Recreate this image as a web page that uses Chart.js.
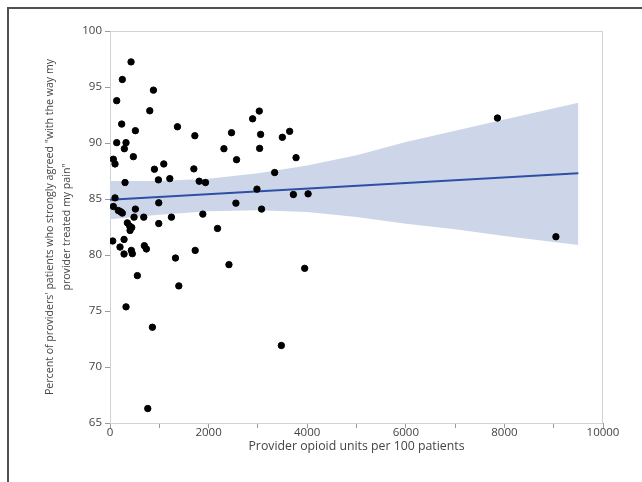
<!DOCTYPE html>
<html>
<head>
<meta charset="utf-8">
<script src="https://cdn.jsdelivr.net/npm/chart.js@4.4.0/dist/chart.umd.min.js"></script>
<style>
  body { margin: 0; background: #fff; }
  #wrap { position: relative; width: 642px; height: 482px; }
  #frame { position: absolute; left: 7px; top: 7px; width: 700px; height: 600px;
           border-left: 2px solid #505050; border-top: 2px solid #505050; pointer-events: none; }
</style>
</head>
<body>
<div id="wrap">
  <canvas id="myChart"></canvas>
  <div id="frame"></div>
</div>
<script>
// opioid units per 100 patients (x) vs percent strongly agreed (y)
const opioidUnits = [
  427, 250, 881, 136, 807, 237, 515, 1368, 1721, 136, 325, 291, 474, 68,
  102, 901, 1091, 982, 1213, 1701, 1809, 1937, 305, 102, 989, 68,
  169, 217, 250, 515, 488, 685, 1246, 1883, 989, 352, 400, 441, 407, 2181,
  55, 285, 203, 433, 453, 285, 697, 738, 1728, 1328,
  555, 1396, 325, 860, 3476, 766,
  3028, 2893, 2465, 3055, 3496, 3644, 2311, 3035, 2567, 3774, 3340,
  2981, 2554, 3720, 4018, 3075, 2413, 3949,
  7859, 9045
];
const pctAgreed = [
  97.24, 95.67, 94.72, 93.78, 92.88, 91.69, 91.10, 91.45, 90.65, 90.03, 90.03, 89.49, 88.78, 88.55,
  88.13, 87.66, 88.13, 86.71, 86.82, 87.69, 86.59, 86.47, 86.47, 85.10, 84.66, 84.33,
  83.97, 83.86, 83.74, 84.10, 83.38, 83.38, 83.38, 83.65, 82.81, 82.87, 82.58, 82.45, 82.19, 82.37,
  81.25, 81.39, 80.71, 80.41, 80.12, 80.09, 80.83, 80.54, 80.41, 79.73,
  78.16, 77.24, 75.37, 73.55, 71.92, 66.29,
  92.85, 92.16, 90.92, 90.77, 90.51, 91.04, 89.49, 89.52, 88.51, 88.69, 87.36,
  85.88, 84.63, 85.40, 85.46, 84.10, 79.14, 78.81,
  92.23, 81.63
];

// fitted line and its confidence band
const fitX = [0, 9500];
const fitY = [84.93, 87.30];
const bandX = [0, 1000, 2000, 3000, 4000, 5000, 6000, 7000, 8000, 9500];
const bandUpper = [86.6, 86.6, 86.8, 87.3, 88.0, 88.9, 90.1, 91.1, 92.1, 93.6];
const bandLower = [83.2, 83.6, 83.9, 84.0, 83.85, 83.4, 82.8, 82.3, 81.7, 80.9];

const xTicks = [0, 2000, 4000, 6000, 8000, 10000];
const yTitle = ['Percent of providers\' patients who strongly agreed "with the way my', 'provider treated my pain"'];
const xTitle = 'Provider opioid units per 100 patients';

const pts = opioidUnits.map((x, i) => ({ x: x, y: pctAgreed[i] }));
const fitPts = fitX.map((x, i) => ({ x: x, y: fitY[i] }));
const upPts = bandX.map((x, i) => ({ x: x, y: bandUpper[i] }));
const loPts = bandX.map((x, i) => ({ x: x, y: bandLower[i] }));

const fnt = "'Open Sans', sans-serif";

// light box round the plot area
const plotBox = {
  id: 'plotBox',
  beforeDatasetsDraw(chart) {
    const a = chart.chartArea, c = chart.ctx;
    c.save();
    c.strokeStyle = '#d2d2d2';
    c.lineWidth = 1;
    c.strokeRect(a.left + 0.5, a.top + 0.5, a.right - a.left - 1, a.bottom - a.top);
    c.restore();
  }
};

const ctx = document.getElementById('myChart').getContext('2d');
let chart = new Chart(ctx, {
  type: 'scatter',
  data: {
    datasets: [
      {
        type: 'scatter',
        data: pts,
        backgroundColor: '#000',
        borderColor: '#000',
        pointRadius: 3.2,
        pointHoverRadius: 3.2,
        order: 0
      },
      {
        type: 'line',
        data: fitPts,
        borderColor: '#2d4fa6',
        borderWidth: 2,
        pointRadius: 0,
        fill: false,
        order: 1
      },
      {
        type: 'line',
        data: upPts,
        borderColor: 'rgba(0,0,0,0)',
        borderWidth: 0,
        pointRadius: 0,
        backgroundColor: '#cdd6e9',
        fill: '+1',
        order: 2
      },
      {
        type: 'line',
        data: loPts,
        borderColor: 'rgba(0,0,0,0)',
        borderWidth: 0,
        pointRadius: 0,
        fill: false,
        order: 3
      }
    ]
  },
  options: {
    responsive: true,
    maintainAspectRatio: false,
    animation: false,
    events: [],
    layout: { padding: { top: 31, right: 39, left: 0, bottom: 0 } },
    plugins: {
      legend: { display: false },
      tooltip: { enabled: false }
    },
    scales: {
      x: {
        type: 'linear',
        min: 0,
        max: 10000,
        afterFit: (s) => { s.height = 59; },
        border: { display: true, color: '#9a9a9a', width: 1 },
        grid: { drawOnChartArea: false, tickLength: 5, color: '#9a9a9a' },
        ticks: {
          stepSize: 1000,
          maxRotation: 0,
          autoSkip: false,
          padding: -2,
          color: '#444',
          font: { family: fnt, size: 11.5 },
          callback: (v) => xTicks.includes(v) ? String(v) : ''
        },
        title: {
          display: true,
          text: xTitle,
          color: '#444',
          font: { family: fnt, size: 12.3 },
          padding: { top: 0, bottom: 28 }
        }
      },
      y: {
        min: 65,
        max: 100,
        afterFit: (s) => { s.width = 110; },
        border: { display: true, color: '#9a9a9a', width: 1 },
        grid: { drawOnChartArea: false, tickLength: 5, color: '#9a9a9a' },
        ticks: {
          stepSize: 5,
          padding: 3,
          color: '#444',
          font: { family: fnt, size: 11.5 }
        },
        title: {
          display: true,
          text: yTitle,
          color: '#444',
          font: { family: fnt, size: 10.6, lineHeight: 1.65 },
          padding: { top: 41, bottom: 0 }
        }
      }
    }
  },
  plugins: [plotBox]
});
</script>
</body>
</html>
